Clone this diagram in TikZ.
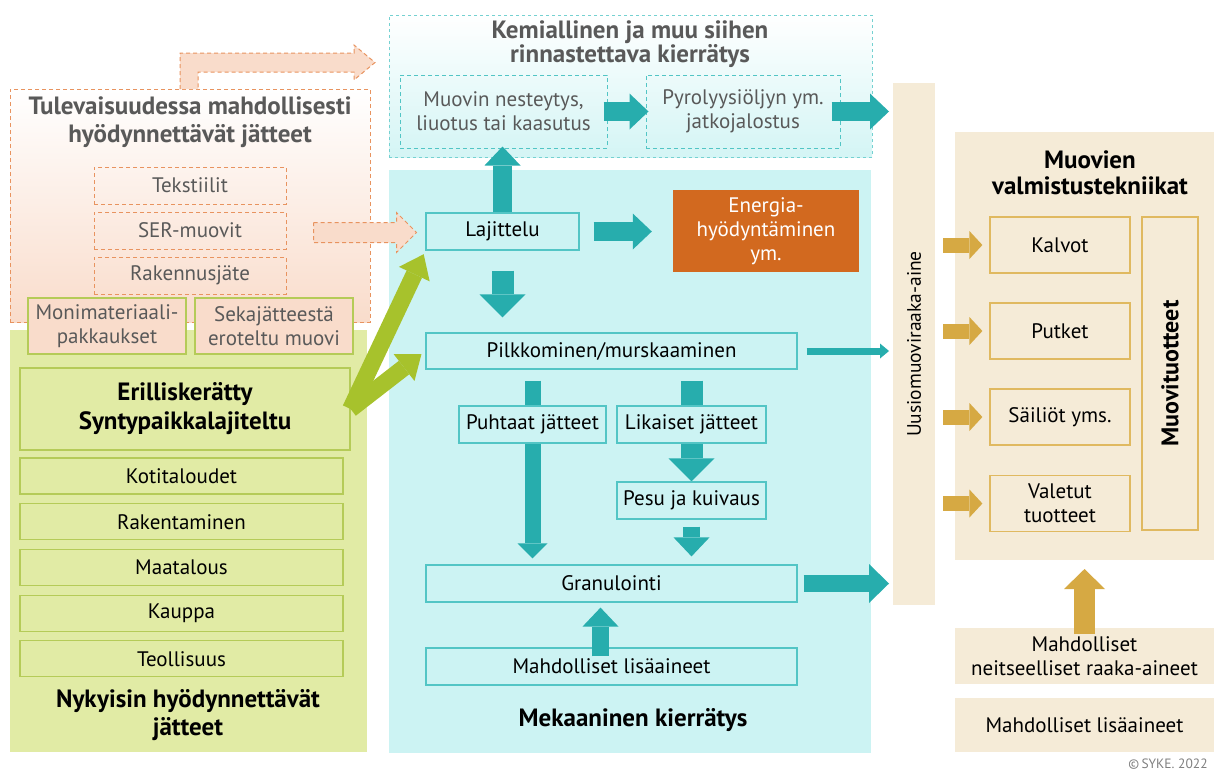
\documentclass[tikz,border=0pt]{standalone}
\usepackage{fontspec}
\setmainfont{PT Sans}
\usetikzlibrary{arrows.meta,positioning,calc}
\definecolor{TealArrow}{HTML}{27ADAD}
\definecolor{TealLine}{HTML}{52C5C5}
\definecolor{MechBg}{HTML}{CCF3F3}
\definecolor{GreenBg}{HTML}{E1EBA5}
\definecolor{GreenLine}{HTML}{B5CB58}
\definecolor{GreenArrow}{HTML}{A7C22C}
\definecolor{PeachBg}{HTML}{F9DCCB}
\definecolor{OrangeDash}{HTML}{E8935F}
\definecolor{EnergyOrange}{HTML}{D2691F}
\definecolor{Beige}{HTML}{F5EBD7}
\definecolor{GoldLine}{HTML}{E0B960}
\definecolor{GoldArrow}{HTML}{D6A943}
\definecolor{GrayText}{HTML}{595959}
\pgfdeclarelayer{background}
\pgfdeclarelayer{behind}
\pgfsetlayers{background,behind,main}

\begin{document}
\begin{tikzpicture}[
  x=1pt, y=-1pt,
  font=\fontsize{21}{24}\selectfont,
  region/.style={inner sep=0pt, outer sep=0pt},
  title/.style={align=center, font=\fontsize{25}{27.5}\selectfont\bfseries},
  cbox/.style={draw=TealLine, line width=1.2pt, fill=MechBg, align=center, inner sep=2pt},
  gbox/.style={draw=GreenLine, line width=1.2pt, fill=GreenBg, align=center, inner sep=2pt},
  pbox/.style={draw=GreenLine, line width=1.2pt, fill=PeachBg, align=center, inner sep=2pt, text=GrayText},
  dbox/.style={draw=OrangeDash, line width=1pt, dash pattern=on 4pt off 3pt, align=center, inner sep=2pt, text=GrayText},
  kbox/.style={draw=TealLine, line width=1pt, dash pattern=on 4pt off 3pt, align=center, inner sep=2pt, text=GrayText},
  ybox/.style={draw=GoldLine, line width=1.2pt, fill=Beige, align=center, inner sep=2pt},
  fat/.style={draw=TealArrow, line width=19pt, -{Triangle[width=36pt,length=19pt,line width=0pt]}},
  fatbig/.style={draw=TealArrow, line width=22pt, -{Triangle[width=46pt,length=23pt,line width=0pt]}},
  fatsmall/.style={draw=TealArrow, line width=16pt, -{Triangle[width=30pt,length=15pt,line width=0pt]}},
  slimarrow/.style={draw=TealArrow, line width=7pt, -{Triangle[width=15pt,length=9pt,line width=0pt]}},
  greenarrow/.style={draw=GreenArrow, line width=17pt, -{Triangle[width=34pt,length=22pt,line width=0pt]}},
  goldarrow/.style={draw=GoldArrow, line width=15pt, -{Triangle[width=28pt,length=13pt,line width=0pt]}},
  dasharrow/.style={draw=OrangeDash, fill=PeachBg, line width=1pt, dash pattern=on 4pt off 3pt}
]
\useasboundingbox (0,0) rectangle (1214,772);

% background areas
\begin{pgfonlayer}{background}
\node[region, draw=OrangeDash, line width=1pt, dash pattern=on 4pt off 3pt, top color=white, bottom color=PeachBg,
  minimum width=360pt, minimum height=233pt] (future) at (190,205.5) {};
\node[region, fill=GreenBg, minimum width=357pt, minimum height=422pt] (current) at (188.5,541) {};
\node[region, draw=TealLine!80, line width=0.8pt, dash pattern=on 3pt off 3pt, top color=white, bottom color=MechBg!85,
  minimum width=483pt, minimum height=142pt] (chem) at (630.5,86) {};
\node[region, fill=MechBg, minimum width=482pt, minimum height=583pt] (mech) at (630,461.5) {};
\node[region, fill=Beige, minimum width=42pt, minimum height=522pt] (uusio) at (914,344) {};
\node[region, fill=Beige, minimum width=259pt, minimum height=428pt] (tech) at (1084.5,346) {};
\node[region, fill=Beige, align=center, minimum width=259pt, minimum height=56pt] (virgin) at (1084.5,656) {Mahdolliset\\neitseelliset raaka-aineet};
\node[region, fill=Beige, minimum width=259pt, minimum height=54pt] (addright) at (1084.5,725) {Mahdolliset lisäaineet};
\end{pgfonlayer}

% future waste
\node[title, text=GrayText] (futuretitle) at (190,122) {Tulevaisuudessa mahdollisesti\\hyödynnettävät jätteet};
\node[dbox, minimum width=192pt, minimum height=37pt] (tekstiilit) at (190,185.5) {Tekstiilit};
\node[dbox, minimum width=192pt, minimum height=37pt, below=7pt of tekstiilit] (ser) {SER-muovit};
\node[dbox, minimum width=192pt, minimum height=37pt, below=7pt of ser] (rakennus) {Rakennusjäte};
\node[pbox, minimum width=158pt, minimum height=56pt] (monimat) at (107,326) {Monimateriaali-\\pakkaukset};
\node[pbox, minimum width=158pt, minimum height=56pt] (sekaj) at (274,326) {Sekajätteestä\\eroteltu muovi};

% current waste
\node[gbox, font=\fontsize{25}{29}\selectfont\bfseries, minimum width=330pt, minimum height=82pt] (erill) at (185,409) {Erilliskerätty\\Syntypaikkalajiteltu};
\node[gbox, minimum width=323pt, minimum height=36pt] (koti) at (181.5,476) {Kotitaloudet};
\node[gbox, minimum width=323pt, minimum height=36pt, below=8.5pt of koti] (rak) {Rakentaminen};
\node[gbox, minimum width=323pt, minimum height=36pt, below=8.5pt of rak] (maat) {Maatalous};
\node[gbox, minimum width=323pt, minimum height=36pt, below=8.5pt of maat] (kauppa) {Kauppa};
\node[gbox, minimum width=323pt, minimum height=36pt, below=8.5pt of kauppa] (teoll) {Teollisuus};
\node[title] (currenttitle) at (188,715) {Nykyisin hyödynnettävät\\jätteet};

% chemical recycling
\node[title, text=GrayText, font=\fontsize{25}{24.5}\selectfont\bfseries] (chemtitle) at (630,44) {Kemiallinen ja muu siihen\\rinnastettava kierrätys};
\node[kbox, minimum width=207pt, minimum height=73pt] (muovin) at (503.5,111.5) {Muovin nesteytys,\\liuotus tai kaasutus};
\node[kbox, minimum width=194pt, minimum height=73pt] (pyro) at (743,111.5) {Pyrolyysiöljyn ym.\\jatkojalostus};

% mechanical recycling
\node[cbox, minimum width=153pt, minimum height=37pt] (lajittelu) at (502.5,231.5) {Lajittelu};
\node[draw=none, fill=EnergyOrange, text=white, align=center, minimum width=186pt, minimum height=82pt] (energia) at (766,231) {Energia-\\hyödyntäminen\\ym.};
\node[cbox, minimum width=371pt, minimum height=36pt] (pilkk) at (611.5,351) {Pilkkominen/murskaaminen};
\node[cbox, minimum width=147pt, minimum height=37pt] (puhtaat) at (532.5,424.5) {Puhtaat jätteet};
\node[cbox, minimum width=149pt, minimum height=37pt] (likaiset) at (691.5,424.5) {Likaiset jätteet};
\node[cbox, minimum width=149pt, minimum height=37pt] (pesu) at (691.5,500.5) {Pesu ja kuivaus};
\node[cbox, minimum width=371pt, minimum height=37pt] (granul) at (611.5,583.5) {Granulointi};
\node[cbox, minimum width=371pt, minimum height=37pt] (lisaaineet) at (611.5,666.5) {Mahdolliset lisäaineet};
\node[title] (mechtitle) at (633,720) {Mekaaninen kierrätys};

% production
\node[rotate=90, font=\fontsize{19.5}{24}\selectfont] (uusiotext) at (uusio.center) {Uusiomuoviraaka-aine};
\node[title, font=\fontsize{25}{26}\selectfont\bfseries] (techtitle) at (1090,173) {Muovien\\valmistustekniikat};
\node[ybox, minimum width=140pt, minimum height=56pt] (kalvot) at (1060,245) {Kalvot};
\node[ybox, minimum width=140pt, minimum height=56pt] (putket) at (1060,331) {Putket};
\node[ybox, minimum width=140pt, minimum height=56pt] (sailiot) at (1060,417) {Säiliöt yms.};
\node[ybox, minimum width=140pt, minimum height=56pt] (valetut) at (1060,503.5) {Valetut\\tuotteet};
\node[ybox, rotate=90, font=\fontsize{24}{27}\selectfont\bfseries, minimum width=313pt, minimum height=56pt] (muovituotteet) at (1170,373.5) {Muovituotteet};
\node[text=gray, font=\fontsize{13.5}{15}\selectfont] (copy) at (1168,764) {\textcopyright\,SYKE. 2022};

% arrows
\draw[dasharrow] ($(future.north)+(-10,0)$) -- ++(0,-36) -- ++(174,0) -- ++(0,-8) -- ++(21,17.5)
  -- ++(-21,17.5) -- ++(0,-8) -- ++(-156,0) -- ++(0,17);
\draw[dasharrow] ($(ser.east)+(27,-8)$) -- ++(83,0) -- ++(0,-10) -- ++(20,20) -- ++(-20,20) -- ++(0,-10) -- ++(-83,0) -- cycle;
\draw[greenarrow, shorten >=4pt] (erill.east) -- (lajittelu.south west);
\draw[greenarrow, shorten >=5pt] (erill.east) -- (pilkk.west);

\draw[fat, shorten <=-4pt, shorten >=-3pt] (muovin.east) -- (pyro.west);
\draw[fat, shorten <=-9pt, shorten >=4pt] (pyro.east) -- (pyro.east -| uusio.west);
\draw[fat, shorten >=-2pt] (lajittelu.north) -- (lajittelu.north |- muovin.south);
\draw[fat, shorten <=14pt, shorten >=21pt] (lajittelu.east) -- (lajittelu.east -| energia.west);
\draw[fatbig, shorten <=20pt, shorten >=15pt] (lajittelu.south) -- (lajittelu.south |- pilkk.north);
\draw[slimarrow, shorten <=9pt, shorten >=4pt] (pilkk.east) -- (pilkk.east -| uusio.west);
\begin{pgfonlayer}{behind}
\draw[fatsmall, shorten <=11pt, shorten >=6pt] (puhtaat.north |- pilkk.south) -- (puhtaat.south |- granul.north);
\draw[fatbig, shorten <=11pt] (likaiset.north |- pilkk.south) -- (likaiset.south |- pesu.north);
\end{pgfonlayer}
\draw[fat, line width=17pt, shorten <=7pt, shorten >=8pt] (pesu.south) -- (pesu.south |- granul.north);
\draw[fat, line width=17pt, shorten <=-9pt, shorten >=5pt] ([xshift=-11pt]lisaaineet.north) -- ([xshift=-11pt]granul.south);
\draw[fat, line width=17pt, -{Triangle[width=39pt,length=20pt,line width=0pt]}, shorten <=6pt, shorten >=4pt] (granul.east) -- (granul.east -| uusio.west);

\draw[goldarrow, shorten <=8pt, shorten >=7pt] (uusio.east |- kalvot) -- (kalvot.west);
\draw[goldarrow, shorten <=8pt, shorten >=7pt] (uusio.east |- putket) -- (putket.west);
\draw[goldarrow, shorten <=8pt, shorten >=7pt] (uusio.east |- sailiot) -- (sailiot.west);
\draw[goldarrow, shorten <=8pt, shorten >=7pt] (uusio.east |- valetut) -- (valetut.west);
\draw[goldarrow, line width=21pt, -{Triangle[width=41pt,length=20pt,line width=0pt]}, shorten <=-6pt, shorten >=9pt] (virgin.north) -- (virgin.north |- tech.south);
\end{tikzpicture}
\end{document}
